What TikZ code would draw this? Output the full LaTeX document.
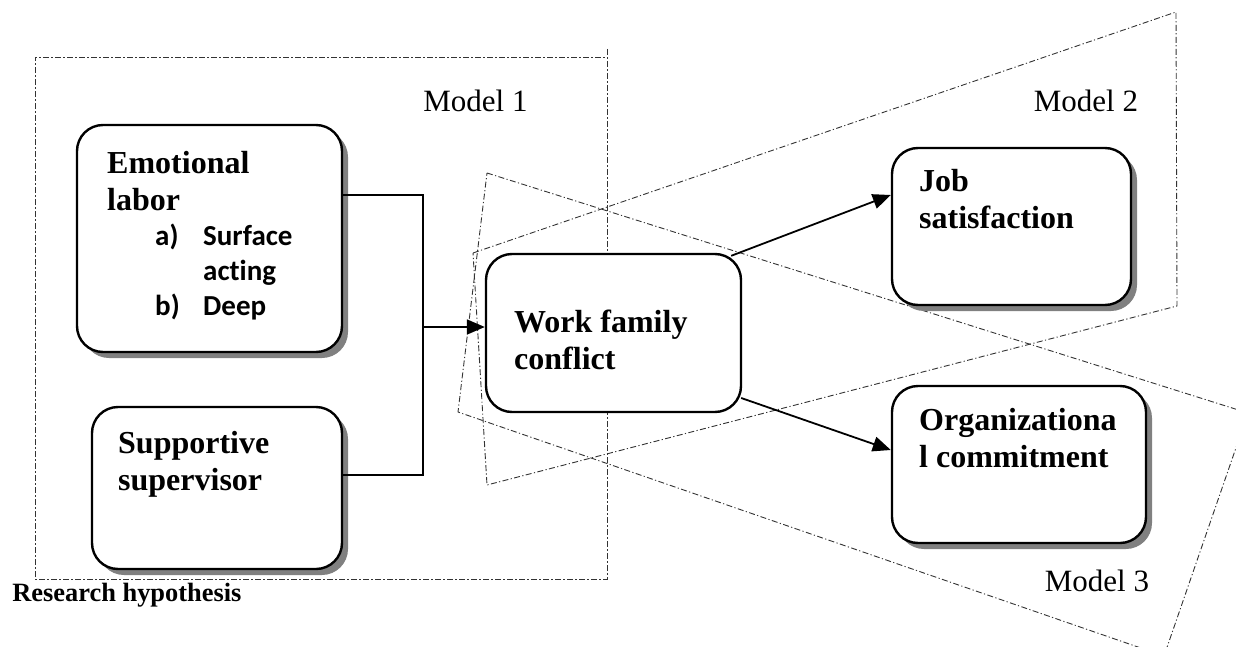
\documentclass[tikz,border=0pt]{standalone}
\usepackage{fontspec}
\setmainfont{Liberation Serif}
\newfontfamily\listfont{Carlito}[Ligatures={NoCommon}]
\usetikzlibrary{arrows.meta,shadows,calc}
\newcommand{\stacked}[1]{\begin{tabular}[t]{@{}l@{}}#1\end{tabular}}

\begin{document}
\begin{tikzpicture}[x=0.5pt,y=-0.5pt,
  modelframe/.style={draw=black!80, line width=0.45pt,
    dash pattern=on 3pt off 1.2pt on 0.6pt off 1.2pt},
  card/.style={draw=black, line width=1.2pt, fill=white,
    rounded corners=13pt, inner sep=0pt},
  shadowed/.style={card, drop shadow={shadow xshift=3pt, shadow yshift=-3pt,
    fill=black!50, opacity=1}},
  boxtitle/.style={font=\fontsize{16}{18.5}\selectfont\bfseries,
    inner sep=0pt, anchor=base west},
  items/.style={font=\listfont\fontsize{14.5}{17.5}\selectfont\bfseries,
    inner sep=0pt, anchor=base west},
  modellabel/.style={font=\fontsize{15.5}{18}\selectfont, inner sep=0pt, anchor=base},
  wire/.style={draw=black, line width=0.9pt},
  flow/.style={wire, -{Triangle[length=9pt,width=7.5pt]}},
]
\useasboundingbox (0,0) rectangle (1236,647);
\clip (0,0) rectangle (1236,647);

% dash-dotted outlines of the three models
\draw[modelframe] (607,49) -- (607,579) -- (35,579) -- (35,57) -- (607,57);
\draw[modelframe] (473,253) -- (1176,12) -- (1177,306) -- (487,485) -- cycle;
\draw[modelframe] (487,173) -- (1248,413) -- (1164,656) -- (458,412) -- cycle;

% variable boxes
\node[shadowed, minimum width=132.5pt, minimum height=113.5pt] (el) at (209.5,238.5) {};
\node[shadowed, minimum width=125pt, minimum height=81pt] (ss) at (217,488) {};
\node[card, minimum width=127.5pt, minimum height=79pt] (wfc) at (613.5,333) {};
\node[shadowed, minimum width=119.5pt, minimum height=78.5pt] (js) at (1011.5,226.5) {};
\node[shadowed, minimum width=127pt, minimum height=78.5pt] (oc) at (1019,464.5) {};

% box texts
\node[boxtitle] (el-t) at ($(el.north west)+(31,50)$) {\stacked{Emotional\\labor}};
\node[items] (el-l) at ($(el.north west)+(79,122)$)
  {\begin{tabular}[t]{@{}l@{}l@{}}\makebox[24pt][l]{a)}&Surface\\&acting\\\makebox[24pt][l]{b)}&Deep\end{tabular}};
\node[boxtitle] (ss-t) at ($(ss.north west)+(27,48)$) {\stacked{Supportive\\supervisor}};
\node[boxtitle] (wfc-t) at ($(wfc.north west)+(29,80)$) {\stacked{Work family\\conflict}};
\node[boxtitle] (js-t) at ($(js.north west)+(28,45)$) {\stacked{Job\\satisfaction}};
\node[boxtitle] (oc-t) at ($(oc.north west)+(28,46)$) {\stacked{Organizationa\\l commitment}};

% connectors
\coordinate (merge) at (423,327);
\draw[wire] ([yshift=21.75pt]el.east) -| (merge);
\draw[wire] ([yshift=6.5pt]ss.east) -| (merge);
\draw[flow] (merge) -- (merge -| wfc.west);
\draw[flow] ([xshift=-5.5pt,yshift=-1.5pt]wfc.north east) -- ([yshift=15.75pt]js.west);
\draw[flow] ([xshift=-0.5pt,yshift=-32.5pt]wfc.east) -- ([yshift=7.25pt]oc.west);

% labels
\node[modellabel] (m1) at (475.5,112) {Model 1};
\node[modellabel] (m2) at (1086,112) {Model 2};
\node[modellabel] (m3) at (1097,591) {Model 3};
\node[font=\fontsize{13.2}{15}\selectfont\bfseries, anchor=base west, inner sep=0pt]
  (rh) at (12,601) {Research hypothesis};
\end{tikzpicture}
\end{document}
